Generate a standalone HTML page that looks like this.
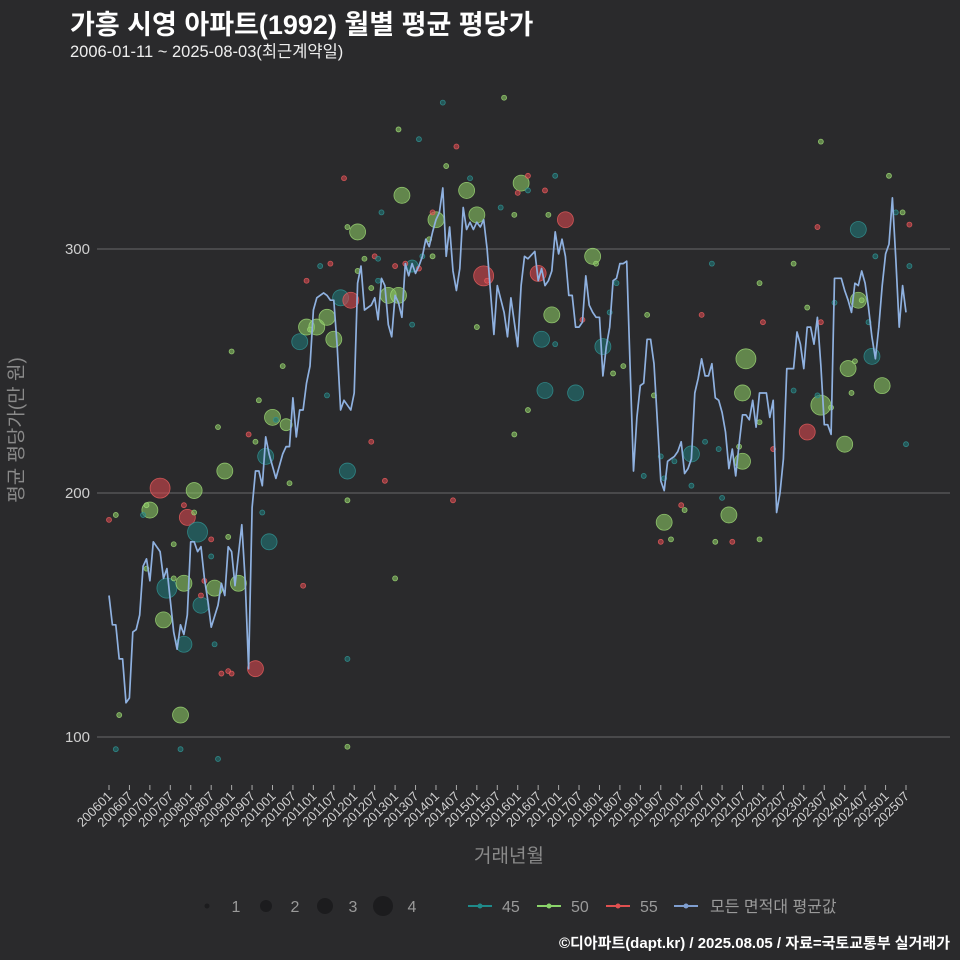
<!DOCTYPE html>
<html><head><meta charset="utf-8">
<style>
html,body{margin:0;padding:0;background:#2a2a2c;}
#wrap{position:relative;width:960px;height:960px;background:#2a2a2c;overflow:hidden;font-family:"Liberation Sans","Noto Sans CJK KR",sans-serif;}
.t{position:absolute;white-space:nowrap;}
</style></head>
<body>
<div id="wrap">
<div class="t" style="left:70px;top:3px;font-size:27px;font-weight:bold;color:#fff;">가흥 시영 아파트(1992) 월별 평균 평당가</div>
<div class="t" style="left:70px;top:38px;font-size:16.5px;color:#eee;">2006-01-11 ~ 2025-08-03(최근계약일)</div>
<div class="t" style="left:15px;top:430px;font-size:19px;color:#8a8a8a;transform:translate(-50%,-50%) rotate(-90deg);">평균 평당가(만 원)</div>
<div class="t" style="left:509px;top:841px;font-size:19px;color:#8a8a8a;transform:translateX(-50%);">거래년월</div>
<div class="t" style="right:10px;top:932px;font-size:15px;font-weight:bold;color:#fff;">©디아파트(dapt.kr) / 2025.08.05 / 자료=국토교통부 실거래가</div>
<svg id="chart" width="960" height="960" style="position:absolute;left:0;top:0"></svg>
</div>
<script>
// ---- data ----
const yTicks = [100, 200, 300];
const xTickLabels = ["200601","200607","200701","200707","200801","200807","200901","200907","201001","201007","201101","201107","201201","201207","201301","201307","201401","201407","201501","201507","201601","201607","201701","201707","201801","201807","201901","201907","202001","202007","202101","202107","202201","202207","202301","202307","202401","202407","202501","202507"];
// month index since 2006-01
const lineMonth = [0,1,2,3,4,5,6,7,8,9,10,11,12,13,15,16,17,18,19,20,21,22,23,24,25,26,27,28,29,30,32,33,34,35,36,37,39,40,41,42,43,44,45,46,47,49,51,52,53,54,55,56,57,58,59,60,61,63,64,65,66,67,68,69,70,71,72,73,74,75,77,78,79,80,81,82,83,84,85,86,87,88,89,90,91,92,93,94,95,96,97,98,99,100,101,102,103,104,105,106,107,108,109,110,111,113,114,116,117,118,120,121,122,123,125,126,127,128,129,130,131,132,133,134,135,136,137,138,139,140,141,142,143,144,145,146,147,148,149,150,151,152,153,154,155,156,157,158,159,160,161,162,163,164,165,166,167,168,169,170,171,172,173,174,175,176,177,178,179,180,181,182,183,184,185,186,187,188,189,190,191,192,193,194,195,196,197,198,199,200,201,202,203,204,205,206,207,208,209,210,211,212,213,214,215,216,217,218,219,220,221,222,223,224,225,226,227,228,229,230,231,232,233,234,235];
const lineValue = [158,146,146,132,132,114,116,143,144,150,170,173,164,180,176,165,169,156,143,136,146,142,150,180,180,176,178,165,156,145,154,163,158,178,176,162,187,164,128,194,209,209,203,223,216,206,216,219,219,239,223,234,234,245,252,275,280,282,281,279,279,260,234,238,236,234,241,286,293,275,277,280,271,288,285,269,264,281,278,272,294,289,294,290,293,297,304,301,307,312,315,325,297,309,291,283,292,317,308,311,308,311,309,312,300,265,285,274,264,280,260,285,297,296,299,287,292,285,287,291,307,298,304,297,281,281,268,268,270,289,277,274,272,272,248,260,268,287,288,294,294,295,252,209,231,244,245,263,263,253,229,205,201,213,214,215,217,221,208,210,214,241,247,255,248,248,253,239,238,233,225,210,218,207,220,232,232,230,238,227,241,241,241,231,238,192,200,214,251,251,251,266,261,251,268,268,261,272,252,228,228,224,288,288,288,283,279,274,286,285,291,286,276,264,255,268,285,298,302,321,296,268,285,274];
// scatter: month index, value, area type, trade count
const ptMonth = [12,15,16,17,21,22,22,25,23,26,27,31,34,43,38,46,47,48,52,56,58,61,64,68,66,71,70,73,86,82,85,89,96,105,108,110,121,126,130,127,128,134,142,137,145,163,182,171,187,186,186,205,209,217,216,220,220,227,224,
0,2,2,3,10,11,11,19,19,22,21,25,27,28,30,30,31,32,32,33,35,35,36,36,41,43,44,45,49,51,53,57,58,59,62,65,64,69,70,70,70,70,73,75,77,78,79,77,79,80,81,84,85,84,87,89,91,91,92,94,95,95,98,99,101,102,106,108,111,116,115,120,119,119,123,123,123,128,131,129,131,139,143,148,149,151,147,158,157,160,162,163,162,165,166,168,169,171,174,175,177,178,179,180,183,185,192,191,191,191,195,201,201,205,208,208,209,212,213,218,219,221,223,225,229,231,233,234,235,235,209];
const ptValue = [193,202,148,161,109,138,163,201,190,184,154,161,209,128,163,215,180,231,228,262,268,268,272,280,263,279,209,307,322,281,281,293,312,324,314,289,327,290,273,263,242,312,297,241,260,188,191,216,255,241,213,225,236,251,220,308,279,244,256,
189,191,95,109,191,195,169,165,179,195,95,192,158,164,181,174,138,91,227,126,127,182,126,258,224,221,238,192,230,252,204,162,287,267,293,294,240,329,309,197,96,132,291,296,284,297,296,221,287,315,205,165,349,293,294,269,292,345,297,304,315,297,360,334,197,342,329,268,287,362,317,323,224,314,330,324,234,324,330,314,261,271,294,249,286,252,274,273,207,240,215,206,180,181,213,195,193,203,273,221,294,180,218,198,180,219,270,286,181,229,218,294,242,276,240,309,344,235,278,241,254,279,270,297,330,315,315,220,310,293,270];
const ptType = [50,55,50,45,50,45,50,50,55,45,45,50,50,55,50,45,45,50,50,45,50,50,50,45,50,55,45,50,50,50,50,45,50,50,50,55,50,55,50,45,45,55,50,45,45,50,50,45,50,50,50,55,50,50,50,45,50,50,45,
55,50,45,50,45,50,50,50,50,55,45,50,55,55,55,45,45,45,50,55,55,50,55,50,55,50,50,45,45,50,50,55,55,50,45,55,45,55,50,50,50,45,50,50,50,55,45,55,45,45,55,50,50,55,55,45,55,45,45,50,55,50,45,50,55,55,45,50,55,50,45,55,50,50,55,45,50,55,45,50,45,55,50,50,45,50,45,50,45,50,45,45,55,50,45,55,50,45,55,45,45,50,45,45,55,50,55,50,50,50,55,50,45,50,45,55,50,50,45,50,50,50,45,45,50,45,50,45,55,45,55];
const ptCount = [3,4,3,4,3,3,3,3,3,4,3,3,3,3,3,3,3,3,2,3,3,3,3,3,3,3,3,3,3,3,3,2,3,3,3,4,3,3,3,3,3,3,3,3,3,3,3,3,4,3,3,3,4,3,3,3,3,3,3];
// ---- scales ----
const X0 = 109, XS = 3.406, Y300 = 249, YS = 2.44;
function xScale(m){ return X0 + m*XS; }
function yScale(v){ return Y300 + (300 - v)*YS; }
function rScale(c){ return [0,2.5,6,8,10][c]; }
const fill = {45:'rgba(34,118,118,0.6)',50:'rgba(136,196,98,0.6)',55:'rgba(214,72,78,0.6)'};
const stroke = {45:'rgba(50,150,150,0.8)',50:'rgba(160,220,120,0.8)',55:'rgba(235,95,95,0.8)'};
const NS='http://www.w3.org/2000/svg';
const svg=document.getElementById('chart');
function mk(tag,attrs){const e=document.createElementNS(NS,tag);for(const k in attrs)e.setAttribute(k,attrs[k]);return e;}
// grid + y ticks
yTicks.forEach(v=>{
  const l=mk('line',{x1:97,x2:950,y1:yScale(v),y2:yScale(v),stroke:'#5c5c5e','stroke-width':1.2});
  
  
  svg.appendChild(l);
  const t=mk('text',{x:90,y:yScale(v)+5,'text-anchor':'end','font-size':15,fill:'#cfcfcf','font-family':'Liberation Sans, sans-serif'});
  t.textContent=v;
  
  
  svg.appendChild(t);
});
// x ticks
xTickLabels.forEach((lab,i)=>{
  const x=xScale(i*6);
  const tk=mk('line',{x1:x,x2:x,y1:785,y2:790,stroke:'#aaa','stroke-width':1});
  
  
  svg.appendChild(tk);
  const t=mk('text',{x:x+4,y:797,'text-anchor':'end','font-size':13,fill:'#d0d0d0','font-family':'Liberation Sans, sans-serif',transform:'rotate(-45 '+(x+4)+' 797)'});
  t.textContent=lab;
  
  
  svg.appendChild(t);
});
// scatter
const g=mk('g',{});


svg.appendChild(g);
const nPts=Math.min(ptMonth.length, ptValue.length);
for(let i=0;i<nPts;i++){
  const m=ptMonth[i];
  const c=ptCount[i]||1, ty=ptType[i]||50;
  const p=mk('circle',{cx:xScale(m),cy:yScale(ptValue[i]),r:rScale(c),fill:fill[ty],stroke:stroke[ty],'stroke-width':0.8});
  
  
  g.appendChild(p);
}
// average line
const d=lineMonth.map((m,i)=>(i?'L':'M')+xScale(m).toFixed(1)+' '+yScale(lineValue[i]).toFixed(1)).join(' ');
const path=mk('path',{d:d,fill:'none',stroke:'#8fb1e0','stroke-width':1.7,'stroke-linejoin':'round'});


svg.appendChild(path);
// legend
const sizeLeg=[[1,207,236],[2,266,295],[3,325,353],[4,383,412]];
sizeLeg.forEach(s=>{
  const c=mk('circle',{cx:s[1],cy:906,r:rScale(s[0]),fill:'#1c1c1e'});
  
  
  svg.appendChild(c);
  const t=mk('text',{x:s[2],y:912,'text-anchor':'middle','font-size':16,fill:'#9a9a9a','font-family':'Liberation Sans, sans-serif'});
  t.textContent=s[0];
  
  
  svg.appendChild(t);
});
const colLeg=[['45','#1f8a8a',468,502],['50','#8ad46a',537,571],['55','#e05050',606,640],['모든 면적대 평균값','#7f9ed0',674,710]];
colLeg.forEach(s=>{
  const l=mk('line',{x1:s[2],x2:s[2]+24,y1:906,y2:906,stroke:s[1],'stroke-width':2});
  
  
  svg.appendChild(l);
  const c=mk('circle',{cx:s[2]+12,cy:906,r:2.5,fill:s[1]});
  
  
  svg.appendChild(c);
  const t=mk('text',{x:s[3],y:912,'font-size':16,fill:'#9a9a9a','font-family':'Liberation Sans, Noto Sans CJK KR, sans-serif'});
  t.textContent=s[0];
  
  
  svg.appendChild(t);
});
</script>
</body></html>
